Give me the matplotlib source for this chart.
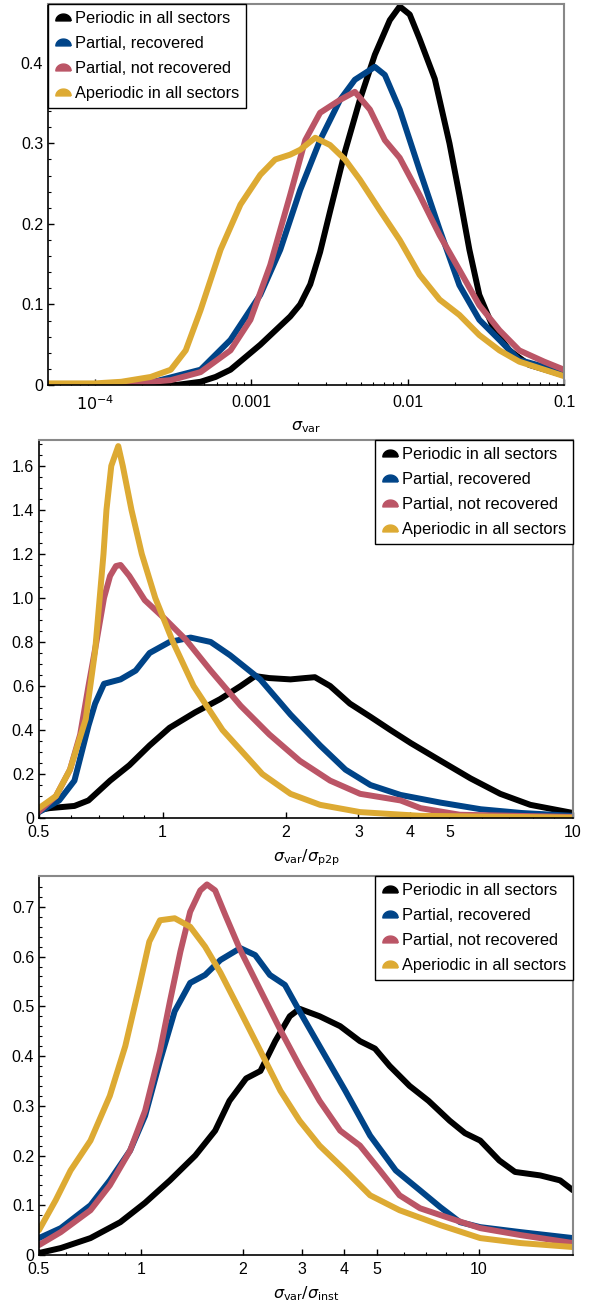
import numpy as np
import matplotlib
matplotlib.use("Agg")
import matplotlib.pyplot as plt
from matplotlib.path import Path
from matplotlib.lines import Line2D

plt.rcParams['font.family'] = ['Liberation Sans', 'DejaVu Sans']
plt.rcParams['mathtext.fontset'] = 'dejavusans'
plt.rcParams['font.size'] = 11.5

labels = ['Periodic in all sectors', 'Partial, recovered',
          'Partial, not recovered', 'Aperiodic in all sectors']
colors = ['#000000', '#004488', '#BB5566', '#DDAA33']

# ---- panel 1: sigma_var ----
p1_black_x = [5e-5, 1.5e-4, 3.3e-4, 4.73e-4, 5.9e-4, 7.35e-4, 1.14e-3, 1.77e-3, 2.05e-3,
              2.38e-3, 2.75e-3, 3.18e-3, 3.97e-3, 4.94e-3, 6.16e-3, 7.68e-3, 8.89e-3,
              1.03e-2, 1.19e-2, 1.49e-2, 1.85e-2, 2.14e-2, 2.48e-2, 2.87e-2, 3.58e-2,
              4.47e-2, 5.98e-2, 0.1]
p1_black_y = [0.0, 0.0, 0.0, 0.004, 0.01, 0.019, 0.05, 0.085, 0.1,
              0.125, 0.165, 0.215, 0.29, 0.354, 0.41, 0.453, 0.47,
              0.46, 0.43, 0.38, 0.30, 0.236, 0.168, 0.112, 0.068,
              0.043, 0.025, 0.012]
p1_blue_x = [5e-5, 1.0e-4, 2.27e-4, 4.73e-4, 7.35e-4, 1.14e-3, 1.53e-3, 2.05e-3, 2.75e-3,
             3.69e-3, 4.59e-3, 6.16e-3, 7.14e-3, 8.89e-3, 1.19e-2, 1.6e-2, 2.14e-2,
             2.87e-2, 3.86e-2, 5.17e-2, 0.1]
p1_blue_y = [0.0, 0.0005, 0.003, 0.019, 0.056, 0.112, 0.168, 0.242, 0.304,
             0.354, 0.379, 0.395, 0.385, 0.342, 0.267, 0.193, 0.124,
             0.081, 0.056, 0.031, 0.016]
p1_red_x = [5e-5, 1.0e-4, 1.69e-4, 3.05e-4, 4.73e-4, 7.35e-4, 9.86e-4, 1.32e-3, 1.77e-3,
            2.21e-3, 2.75e-3, 3.69e-3, 4.59e-3, 5.73e-3, 7.14e-3, 8.89e-3, 1.19e-2,
            1.6e-2, 2.14e-2, 2.87e-2, 3.86e-2, 5.17e-2, 7.46e-2, 0.1]
p1_red_y = [0.0, 0.0008, 0.002, 0.006, 0.016, 0.043, 0.081, 0.149, 0.236,
            0.304, 0.338, 0.354, 0.364, 0.342, 0.304, 0.282, 0.236,
            0.186, 0.143, 0.099, 0.068, 0.043, 0.029, 0.019]
p1_yellow_x = [5e-5, 7e-5, 1.0e-4, 1.47e-4, 2.27e-4, 3.05e-4, 3.8e-4, 4.73e-4, 6.35e-4,
               8.51e-4, 1.14e-3, 1.42e-3, 1.77e-3, 2.05e-3, 2.56e-3, 3.18e-3, 3.97e-3,
               4.94e-3, 6.63e-3, 8.89e-3, 1.19e-2, 1.6e-2, 2.14e-2, 2.87e-2, 3.86e-2,
               5.17e-2, 7.46e-2, 0.1]
p1_yellow_y = [0.002, 0.002, 0.002, 0.004, 0.01, 0.019, 0.043, 0.093, 0.168,
               0.224, 0.261, 0.28, 0.286, 0.292, 0.307, 0.298, 0.28,
               0.255, 0.217, 0.18, 0.137, 0.106, 0.087, 0.062, 0.043,
               0.029, 0.019, 0.011]

# ---- panel 2: sigma_var / sigma_p2p ----
p2_black_x = [0.5, 0.53, 0.61, 0.66, 0.745, 0.83, 0.93, 1.04, 1.20, 1.38, 1.55, 1.68,
              1.82, 2.05, 2.22, 2.35, 2.56, 2.86, 3.21, 3.59, 4.03, 4.76, 5.63, 6.65,
              7.87, 10.0]
p2_black_y = [0.036, 0.045, 0.055, 0.08, 0.17, 0.24, 0.33, 0.41, 0.48, 0.54, 0.60, 0.645,
              0.636, 0.63, 0.636, 0.64, 0.60, 0.52, 0.46, 0.40, 0.34, 0.26, 0.18, 0.11,
              0.06, 0.023]
p2_blue_x = [0.5, 0.56, 0.61, 0.66, 0.685, 0.72, 0.79, 0.86, 0.93, 1.04, 1.17, 1.31,
             1.46, 1.73, 2.05, 2.42, 2.79, 3.21, 3.8, 4.76, 5.96, 7.49, 10.0]
p2_blue_y = [0.027, 0.08, 0.17, 0.42, 0.52, 0.61, 0.63, 0.67, 0.75, 0.80, 0.82, 0.80,
             0.74, 0.63, 0.47, 0.33, 0.22, 0.15, 0.105, 0.07, 0.04, 0.023, 0.01]
p2_red_x = [0.5, 0.55, 0.595, 0.63, 0.66, 0.69, 0.72, 0.745, 0.77, 0.79, 0.83, 0.905,
            1.02, 1.14, 1.31, 1.55, 1.82, 2.16, 2.56, 3.03, 3.8, 4.25, 5.3, 10.0]
p2_red_y = [0.03, 0.1, 0.22, 0.38, 0.6, 0.8, 1.0, 1.1, 1.145, 1.15, 1.1, 0.99,
            0.9, 0.81, 0.67, 0.51, 0.38, 0.26, 0.17, 0.11, 0.08, 0.045, 0.015, 0.005]
p2_yellow_x = [0.5, 0.55, 0.595, 0.65, 0.685, 0.718, 0.73, 0.75, 0.78, 0.80, 0.84, 0.89,
               0.96, 1.06, 1.19, 1.40, 1.75, 2.05, 2.42, 3.03, 4.25, 10.0]
p2_yellow_y = [0.045, 0.1, 0.22, 0.45, 0.76, 1.2, 1.4, 1.6, 1.69, 1.6, 1.4, 1.2,
               1.0, 0.8, 0.6, 0.4, 0.2, 0.11, 0.06, 0.027, 0.01, 0.002]

# ---- panel 3: sigma_var / sigma_inst ----
p3_black_x = [0.5, 0.58, 0.71, 0.87, 1.03, 1.22, 1.45, 1.66, 1.83, 2.05, 2.26, 2.5, 2.76,
              2.95, 3.38, 3.89, 4.45, 4.93, 5.45, 6.24, 7.1, 8.2, 9.1, 10.1, 11.5, 12.8,
              15.2, 17.4, 19.0]
p3_black_y = [0.004, 0.014, 0.034, 0.066, 0.105, 0.15, 0.2, 0.25, 0.31, 0.355, 0.37, 0.43,
              0.48, 0.495, 0.48, 0.46, 0.43, 0.415, 0.38, 0.34, 0.31, 0.27, 0.245, 0.23,
              0.19, 0.167, 0.16, 0.15, 0.13]
p3_blue_x = [0.5, 0.58, 0.71, 0.81, 0.93, 1.03, 1.14, 1.26, 1.40, 1.55, 1.72, 1.97, 2.18,
             2.41, 2.67, 2.95, 3.38, 4.03, 4.77, 5.68, 6.7, 7.7, 8.8, 10.1, 13.3, 19.0]
p3_blue_y = [0.034, 0.054, 0.1, 0.15, 0.21, 0.28, 0.39, 0.49, 0.547, 0.563, 0.593, 0.617,
             0.603, 0.563, 0.543, 0.49, 0.42, 0.33, 0.24, 0.17, 0.13, 0.096, 0.066, 0.056,
             0.046, 0.034]
p3_red_x = [0.5, 0.58, 0.71, 0.81, 0.93, 1.03, 1.14, 1.22, 1.31, 1.40, 1.50, 1.57, 1.66,
            1.78, 1.97, 2.26, 2.59, 2.95, 3.38, 3.89, 4.45, 5.1, 5.83, 6.7, 8.2, 10.1,
            13.3, 19.0]
p3_red_y = [0.02, 0.046, 0.09, 0.14, 0.21, 0.29, 0.41, 0.51, 0.61, 0.69, 0.733, 0.745,
            0.733, 0.683, 0.613, 0.532, 0.452, 0.38, 0.31, 0.25, 0.22, 0.17, 0.12, 0.094,
            0.074, 0.054, 0.04, 0.024]
p3_yellow_x = [0.5, 0.56, 0.62, 0.71, 0.81, 0.90, 0.99, 1.06, 1.14, 1.26, 1.40, 1.55, 1.72,
               1.97, 2.26, 2.59, 2.95, 3.38, 4.03, 4.77, 5.83, 7.7, 10.1, 13.3, 19.0]
p3_yellow_y = [0.05, 0.11, 0.17, 0.23, 0.32, 0.42, 0.54, 0.63, 0.673, 0.677, 0.66, 0.62,
               0.568, 0.49, 0.41, 0.33, 0.27, 0.22, 0.17, 0.12, 0.09, 0.06, 0.034, 0.024,
               0.016]

# dome-shaped legend marker
t = np.linspace(0, np.pi, 30)
dome = Path(np.column_stack([np.cos(t), 0.9 * np.sin(t) - 0.45]).tolist() + [[1, -0.45]])


def style_axes(ax, xpad):
    ax.set_xscale('log')
    for s in ['top', 'right']:
        ax.spines[s].set_color('#888888')
        ax.spines[s].set_linewidth(1.5)
    for s in ['left', 'bottom']:
        ax.spines[s].set_linewidth(1.2)
    ax.tick_params(which='both', direction='in', top=False, right=False)
    ax.tick_params(which='major', length=4, width=1)
    ax.tick_params(which='minor', length=2, width=0.8)
    ax.tick_params(axis='x', which='major', pad=xpad)


def draw(ax, series, loc):
    for (x, y), c in zip(series, colors):
        ax.plot(x, y, color=c, lw=4.3, solid_capstyle='round', solid_joinstyle='round')
    handles = [Line2D([], [], ls='none', marker=dome, ms=11, color=c) for c in colors]
    leg = ax.legend(handles, labels, loc=loc, fancybox=False, framealpha=1,
                    edgecolor='black', handletextpad=0.25, handlelength=1.0,
                    borderaxespad=0.0, labelspacing=0.62, fontsize=11.8)
    leg.get_frame().set_linewidth(1.0)


fig = plt.figure(figsize=(5.9, 13.02), dpi=100)
ax1 = fig.add_axes([0.0814, 0.7043, 0.8746, 0.2926])
ax2 = fig.add_axes([0.0661, 0.3717, 0.9051, 0.2904])
ax3 = fig.add_axes([0.0661, 0.0361, 0.9051, 0.2911])

style_axes(ax1, 7)
style_axes(ax2, 5)
style_axes(ax3, 5)

draw(ax1, [(p1_black_x, p1_black_y), (p1_blue_x, p1_blue_y),
           (p1_red_x, p1_red_y), (p1_yellow_x, p1_yellow_y)], 'upper left')
ax1.set_xlim(5e-5, 0.1)
ax1.set_ylim(0, 0.473)
ax1.set_xticks([1e-4, 1e-3, 1e-2, 0.1])
ax1.set_xticklabels([r'$10^{-4}$', '0.001', '0.01', '0.1'])
ax1.set_yticks([0, 0.1, 0.2, 0.3, 0.4])
ax1.set_yticklabels(['0', '0.1', '0.2', '0.3', '0.4'])
ax1.set_yticks(np.arange(0, 0.47, 0.02), minor=True)
ax1.set_xlabel(r'$\sigma_{\rm var}$', labelpad=4)

draw(ax2, [(p2_black_x, p2_black_y), (p2_blue_x, p2_blue_y),
           (p2_red_x, p2_red_y), (p2_yellow_x, p2_yellow_y)], 'upper right')
ax2.set_xlim(0.5, 10)
ax2.set_ylim(0, 1.718)
ax2.set_xticks([0.5, 1, 2, 3, 4, 5, 10])
ax2.set_xticklabels(['0.5', '1', '2', '3', '4', '5', '10'])
ax2.set_yticks(np.arange(0, 1.61, 0.2))
ax2.set_yticklabels(['0', '0.2', '0.4', '0.6', '0.8', '1.0', '1.2', '1.4', '1.6'])
ax2.set_yticks(np.arange(0, 1.71, 0.05), minor=True)
ax2.set_xlabel(r'$\sigma_{\rm var}/\sigma_{\rm p2p}$', labelpad=5)

draw(ax3, [(p3_black_x, p3_black_y), (p3_blue_x, p3_blue_y),
           (p3_red_x, p3_red_y), (p3_yellow_x, p3_yellow_y)], 'upper right')
ax3.set_xlim(0.5, 19)
ax3.set_ylim(0, 0.762)
ax3.set_xticks([0.5, 1, 2, 3, 4, 5, 10])
ax3.set_xticklabels(['0.5', '1', '2', '3', '4', '5', '10'])
ax3.set_yticks(np.arange(0, 0.71, 0.1))
ax3.set_yticklabels(['0', '0.1', '0.2', '0.3', '0.4', '0.5', '0.6', '0.7'])
ax3.set_yticks(np.arange(0, 0.76, 0.02), minor=True)
ax3.set_xlabel(r'$\sigma_{\rm var}/\sigma_{\rm inst}$', labelpad=5)

fig.savefig('out.png', dpi=100)
